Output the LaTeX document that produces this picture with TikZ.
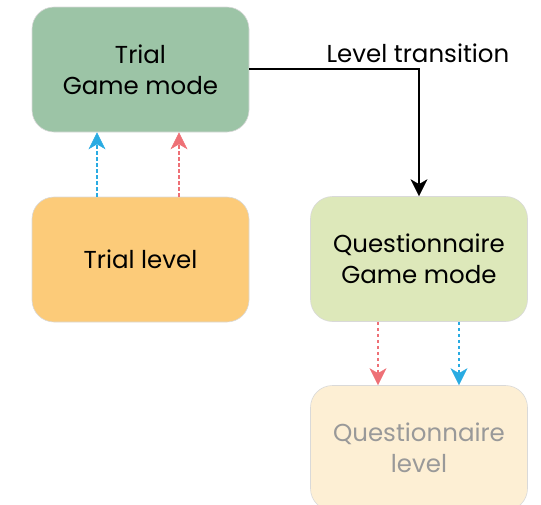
\documentclass[tikz,border=0pt]{standalone}
\usepackage{fontspec}
\setmainfont{Poppins}
\usetikzlibrary{arrows.meta}
\definecolor{gA}{HTML}{9CC4A6}
\definecolor{oB}{HTML}{FCCB79}
\definecolor{gC}{HTML}{DDE8BA}
\definecolor{oD}{HTML}{FDEFD4}
\definecolor{bl}{HTML}{29ABE2}
\definecolor{rd}{HTML}{EE7076}
\definecolor{tx}{HTML}{999999}
\begin{document}
\begin{tikzpicture}[x=1pt,y=-1pt,
  boxs/.style={draw=black!15, line width=0.6pt, rounded corners=22pt, minimum width=217pt, minimum height=125pt, inner sep=0pt, align=center, font=\fontsize{24.5}{31}\selectfont},
  dsh/.style={line width=2pt, dash pattern=on 3.5pt off 2.5pt, -{Stealth[length=17pt,width=17pt,inset=5pt,line width=0.5pt]}},
  solid arrow/.style={line width=2pt, -{Stealth[length=17pt,width=17pt,inset=5pt,line width=0.5pt]}}]
\useasboundingbox (0,0) rectangle (541,504);
\node[boxs, fill=gA] (tgm) at (140.5,69.5) {Trial\\Game mode};
\node[boxs, fill=oB] (tl) at (140.5,259.5) {Trial level};
\node[boxs, fill=gC] (qgm) at (419,259) {Questionnaire\\Game mode};
\node[boxs, fill=oD, text=tx] (ql) at (419,448) {Questionnaire\\level};
\draw[dsh, bl] ([xshift=-43.5pt]tl.north) -- ([xshift=-43.5pt]tgm.south);
\draw[dsh, rd] ([xshift=38.5pt]tl.north) -- ([xshift=38.5pt]tgm.south);
\draw[dsh, rd] ([xshift=-41pt]qgm.south) -- ([xshift=-41pt]ql.north);
\draw[dsh, bl] ([xshift=40pt]qgm.south) -- ([xshift=40pt]ql.north);
\draw[solid arrow] ([yshift=1pt]tgm.east) -| (qgm.north);
\node[font=\fontsize{24.5}{31}\selectfont, inner sep=0pt] (lt) at (418,53) {Level transition};
\end{tikzpicture}
\end{document}
